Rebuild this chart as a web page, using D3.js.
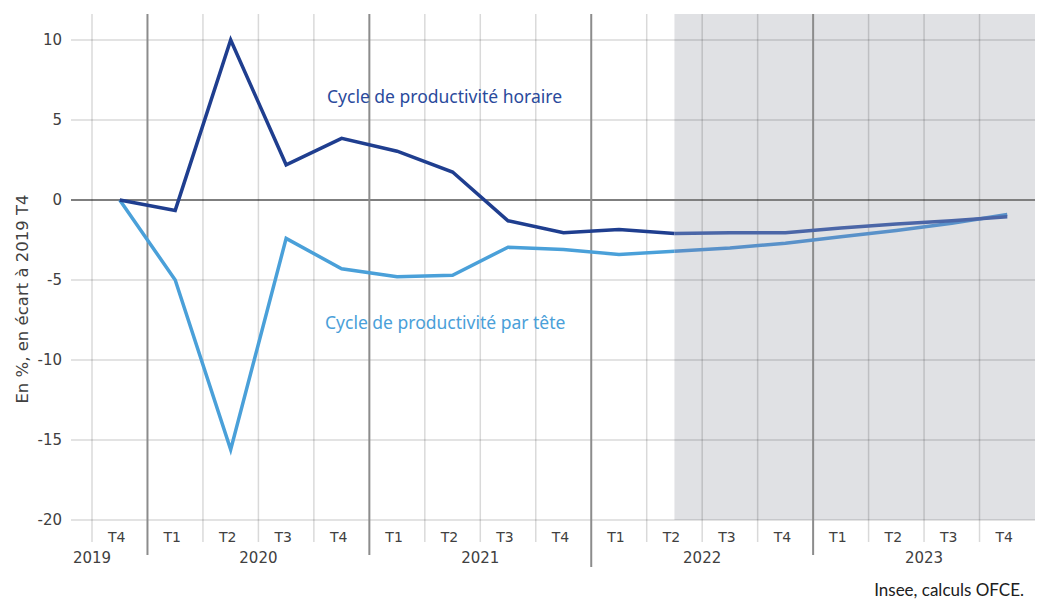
<!DOCTYPE html>
<html>
<head>
<meta charset="utf-8">
<script src="https://cdn.jsdelivr.net/npm/d3@7"></script>
<style>
  html, body { margin: 0; padding: 0; background: #ffffff; }
  svg { display: block; }
</style>
</head>
<body>
<svg id="chart" width="1040" height="601"></svg>
<script>
// ---- Data ----
const quarterLabels = ["T4","T1","T2","T3","T4","T1","T2","T3","T4","T1","T2","T3","T4","T1","T2","T3","T4"];
const quarterYears  = ["2019","2020","2020","2020","2020","2021","2021","2021","2021","2022","2022","2022","2022","2023","2023","2023","2023"];
const yearLabels = ["2019","2020","2021","2022","2023"];
const productiviteHoraire = [0, -0.65, 10.0, 2.2, 3.85, 3.05, 1.75, -1.3, -2.05, -1.85, -2.1, -2.05, -2.05, -1.75, -1.5, -1.3, -1.05];
const productiviteParTete = [0, -5.0, -15.6, -2.4, -4.3, -4.8, -4.7, -2.95, -3.1, -3.4, -3.2, -3.0, -2.7, -2.3, -1.9, -1.45, -0.9];
const yTicks = [10, 5, 0, -5, -10, -15, -20];
const forecastStart = 10; // index of 2022 T2
const seriesNames = ["Cycle de productivité horaire", "Cycle de productivité par tête"];
const yTitle = "En %, en écart à 2019 T4";
const sourceText = "Insee, calculs OFCE.";

(function () {
// ---- Layout ----
const svg = d3.select("#chart");
const pLeft = 92, pRight = 1035, pTop = 14, pBottom = 520;
const idx = d3.range(quarterLabels.length);
const x = d3.scaleBand().domain(idx).range([pLeft, pRight]).padding(0);
const y = d3.scaleLinear().domain([-20, 10]).range([520, 40]);
const cx = i => x(i) + x.bandwidth() / 2;

const darkColor = "#1f3e8f", darkFc = "#4b66a7";
const lightColor = "#4aa0d9", lightFc = "#5991c9";
const textColor = "#404040";
const tickFont = "DejaVu Sans, Verdana, sans-serif";

// Forecast shading
svg.append("rect")
  .attr("x", cx(forecastStart)).attr("y", pTop)
  .attr("width", pRight - cx(forecastStart)).attr("height", pBottom - pTop)
  .attr("fill", "#e0e1e4");

// Horizontal gridlines
svg.append("g").selectAll("line").data(yTicks).join("line")
  .attr("x1", 71).attr("x2", pRight)
  .attr("y1", d => y(d)).attr("y2", d => y(d))
  .attr("stroke", d => d === 0 ? "#7f7f7f" : "rgba(0,0,0,0.15)")
  .attr("stroke-width", d => d === 0 ? 2 : 1.5);

// Vertical gridlines at category boundaries
const boundaries = idx.filter(i => i === 0 || quarterYears[i] === quarterYears[i - 1]);
svg.append("g").selectAll("line").data(boundaries).join("line")
  .attr("x1", d => x(d)).attr("x2", d => x(d))
  .attr("y1", pTop).attr("y2", 542)
  .attr("stroke", "rgba(0,0,0,0.15)").attr("stroke-width", 1.5);

// Year boundaries
const yearBounds = idx.filter(i => i > 0 && quarterYears[i] !== quarterYears[i - 1]);
svg.append("g").selectAll("line").data(yearBounds).join("line")
  .attr("x1", d => x(d)).attr("x2", d => x(d))
  .attr("y1", pTop).attr("y2", (d, k) => k === 2 ? 567 : 555)
  .attr("stroke", "#8c8c8c").attr("stroke-width", 2);

// Y axis labels
svg.append("g").selectAll("text").data(yTicks).join("text")
  .attr("x", 62).attr("y", d => y(d)).attr("dy", "0.36em")
  .attr("text-anchor", "end")
  .attr("font-family", tickFont).attr("font-size", 15).attr("fill", textColor)
  .text(d => d);

// Y title
svg.append("text")
  .attr("transform", "translate(28,299) rotate(-90)")
  .attr("text-anchor", "middle")
  .attr("font-family", tickFont).attr("font-size", 16.5).attr("fill", textColor)
  .text(yTitle);

// Quarter labels
svg.append("g").selectAll("text").data(idx).join("text")
  .attr("x", d => cx(d) - 3).attr("y", 542)
  .attr("text-anchor", "middle")
  .attr("font-family", tickFont).attr("font-size", 14).attr("fill", textColor)
  .text(d => quarterLabels[d]);

// Year labels
const groups = yearLabels.map(yr => {
  const members = idx.filter(i => quarterYears[i] === yr);
  const x0 = x(members[0]);
  const x1 = x(members[members.length - 1]) + x.bandwidth();
  return { yr, pos: members.length === 1 ? x0 : (x0 + x1) / 2 };
});
svg.append("g").selectAll("text").data(groups).join("text")
  .attr("x", d => d.pos).attr("y", 563)
  .attr("text-anchor", "middle")
  .attr("font-family", tickFont).attr("font-size", 15).attr("fill", textColor)
  .text(d => d.yr);

// Lines
const line = d3.line().x(d => cx(d.i)).y(d => y(d.v));
function drawSeries(values, colHist, colFc) {
  const pts = values.map((v, i) => ({ i, v }));
  svg.append("path").datum(pts.slice(0, forecastStart + 1))
    .attr("d", line).attr("fill", "none")
    .attr("stroke", colHist).attr("stroke-width", 3.5).attr("stroke-linejoin", "miter");
  svg.append("path").datum(pts.slice(forecastStart))
    .attr("d", line).attr("fill", "none")
    .attr("stroke", colFc).attr("stroke-width", 3.5).attr("stroke-linejoin", "miter");
}
drawSeries(productiviteParTete, lightColor, lightFc);
drawSeries(productiviteHoraire, darkColor, darkFc);

// Annotations
svg.append("text")
  .attr("x", 327).attr("y", 103)
  .attr("font-family", "Noto Sans, sans-serif").attr("font-size", 17.5).attr("fill", "#2a4a9c")
  .text(seriesNames[0]);
svg.append("text")
  .attr("x", 325).attr("y", 329)
  .attr("font-family", "Noto Sans, sans-serif").attr("font-size", 17.5).attr("fill", "#4aa0d9")
  .text(seriesNames[1]);

// Source
svg.append("text")
  .attr("x", 1024).attr("y", 596)
  .attr("text-anchor", "end")
  .attr("font-family", "Lato, sans-serif").attr("font-size", 17).attr("fill", "#202020")
  .text(sourceText);
})();
</script>
</body>
</html>
